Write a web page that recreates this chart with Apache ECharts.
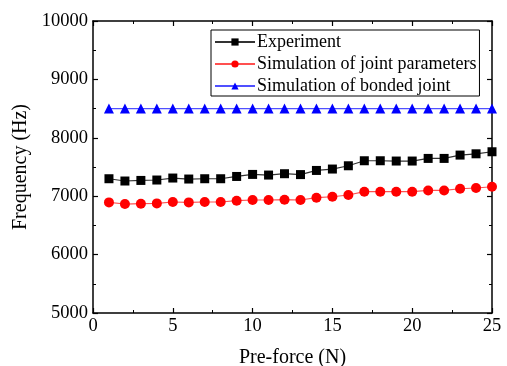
<!DOCTYPE html>
<html><head><meta charset="utf-8">
<script src="https://cdn.jsdelivr.net/npm/echarts@6/dist/echarts.min.js"></script>
<style>html,body{margin:0;padding:0;background:#fff}#c{width:507px;height:366px}</style>
</head><body><div id="c"></div>
<script>
const preForce = [1,2,3,4,5,6,7,8,9,10,11,12,13,14,15,16,17,18,19,20,21,22,23,24,25];
const experiment = [7299,7260,7270,7277,7311,7294,7299,7299,7338,7373,7362,7385,7370,7441,7465,7521,7607,7607,7602,7602,7647,7647,7704,7726,7761];
const simJoint = [6894,6866,6872,6877,6901,6894,6901,6901,6923,6935,6935,6940,6935,6974,6991,7021,7077,7077,7077,7077,7099,7099,7128,7140,7162];
const simBonded = [8500,8500,8500,8500,8500,8500,8500,8500,8500,8500,8500,8500,8500,8500,8500,8500,8500,8500,8500,8500,8500,8500,8500,8500,8500];
const seriesNames = ['Experiment','Simulation of joint parameters','Simulation of bonded joint'];

const pairs = (ys) => preForce.map((x,i)=>[x, ys[i]]);
const font = 'Liberation Serif';
const chart = echarts.init(document.getElementById('c'), null, {renderer:'canvas'});
const axisCommon = {
  axisLine:{show:true, onZero:false, lineStyle:{color:'#000', width:1.5}},
  axisTick:{show:true, inside:true, length:5, lineStyle:{color:'#000', width:1.2}},
  minorTick:{show:true, splitNumber:2, length:3, lineStyle:{color:'#000', width:1}},
  splitLine:{show:false}
};
chart.setOption({
  animation:false,
  backgroundColor:'#fff',
  grid:{left:93, right:15, top:21, bottom:53, containLabel:false, outerBoundsMode:'none'},
  legend:{
    orient:'vertical', left:211, top:30,
    data:seriesNames,
    itemWidth:40, itemHeight:9, itemGap:4,
    borderColor:'#000', borderWidth:1, padding:[3,3,1,3],
    textStyle:{fontFamily:font, fontSize:18, color:'#000', padding:[0,0,0,-3]}
  },
  xAxis:[
    Object.assign({type:'value', min:0, max:25, interval:5, position:'bottom',
      name:'Pre-force (N)', nameLocation:'middle', nameGap:35,
      nameTextStyle:{fontFamily:font, fontSize:20, color:'#000'},
      axisLabel:{fontFamily:font, fontSize:18.5, color:'#000', margin:4, formatter:(v)=>String(v)}}, axisCommon),
    Object.assign({type:'value', min:0, max:25, interval:5, position:'top',
      axisLabel:{show:false}}, axisCommon)
  ],
  yAxis:[
    Object.assign({type:'value', min:5000, max:10000, interval:1000, position:'left',
      name:'Frequency (Hz)', nameLocation:'middle', nameGap:62,
      nameTextStyle:{fontFamily:font, fontSize:20, color:'#000'},
      axisLabel:{fontFamily:font, fontSize:18.5, color:'#000', margin:5, formatter:(v)=>String(v)}}, axisCommon),
    Object.assign({type:'value', min:5000, max:10000, interval:1000, position:'right',
      axisLabel:{show:false}}, axisCommon)
  ],
  series:[
    {name:seriesNames[0], type:'line', data:pairs(experiment), symbol:'rect', symbolSize:9,
      itemStyle:{color:'#000'}, lineStyle:{color:'#333', width:1.2}},
    {name:seriesNames[1], type:'line', data:pairs(simJoint), symbol:'circle', symbolSize:10,
      itemStyle:{color:'#ff0000'}, lineStyle:{color:'#ff5050', width:1.2}},
    {name:seriesNames[2], type:'line', data:pairs(simBonded), symbol:'triangle', symbolSize:10,
      itemStyle:{color:'#0000ff'}, lineStyle:{color:'#5050ff', width:1.2}}
  ]
});
</script></body></html>
